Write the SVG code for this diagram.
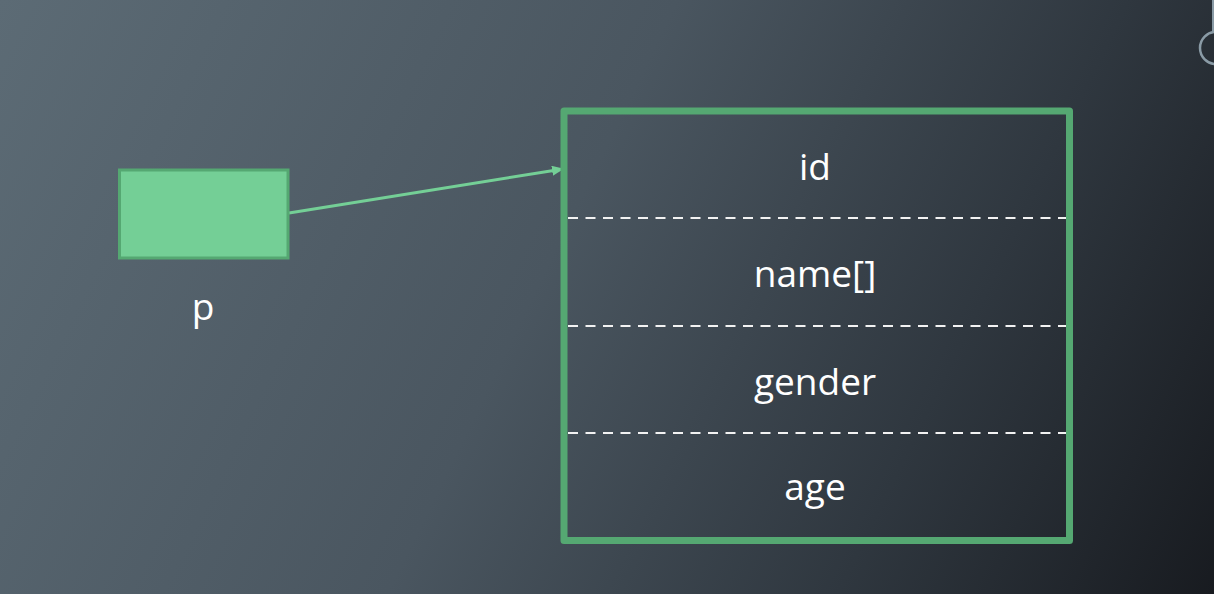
<svg xmlns="http://www.w3.org/2000/svg" width="1214" height="594" viewBox="0 0 1214 594">
<defs>
<linearGradient id="bg" x1="0" y1="0" x2="1214" y2="594" gradientUnits="userSpaceOnUse">
<stop offset="0" stop-color="#5c6b75"/>
<stop offset="0.45" stop-color="#4a5660"/>
<stop offset="0.75" stop-color="#2f373f"/>
<stop offset="1" stop-color="#181b20"/>
</linearGradient>
<marker id="arrow" viewBox="0 0 12 10" refX="11" refY="5" markerWidth="12" markerHeight="10" markerUnits="userSpaceOnUse" orient="auto">
<path d="M0,0 L12,5 L0,10 Z" fill="#74cf96"/>
</marker>
<style>
.lbl{font-family:"Open Sans","Noto Sans","DejaVu Sans",sans-serif;font-size:37px;fill:#ffffff;text-anchor:middle}
.sep{stroke:#f2f2f2;stroke-width:2;stroke-dasharray:10 7.5}
</style>
</defs>
<rect width="1214" height="594" fill="url(#bg)"/>
<circle cx="1216" cy="48" r="16" fill="none" stroke="#8a9ba6" stroke-width="2.5"/>
<line x1="1213" y1="0" x2="1213" y2="32" stroke="#8a9ba6" stroke-width="2"/>
<g id="connectors">
<line x1="289" y1="213" x2="563" y2="169" stroke="#74cf96" stroke-width="3" marker-end="url(#arrow)"/>
</g>
<g id="node-p">
<rect x="119.5" y="170" width="168.5" height="88" fill="#74cf96" stroke="#55a872" stroke-width="3"/>
<text class="lbl" x="203" y="320">p</text>
</g>
<g id="node-struct">
<rect x="564" y="111" width="505.5" height="429.5" fill="none" stroke="#55a872" stroke-width="7" stroke-linejoin="round"/>
<line class="sep" x1="568" y1="218" x2="1066" y2="218"/>
<line class="sep" x1="568" y1="326" x2="1066" y2="326"/>
<line class="sep" x1="568" y1="433" x2="1066" y2="433"/>
<text class="lbl" x="815" y="180">id</text>
<text class="lbl" x="815" y="287">name[]</text>
<text class="lbl" x="815" y="395">gender</text>
<text class="lbl" x="815" y="500">age</text>
</g>
</svg>
